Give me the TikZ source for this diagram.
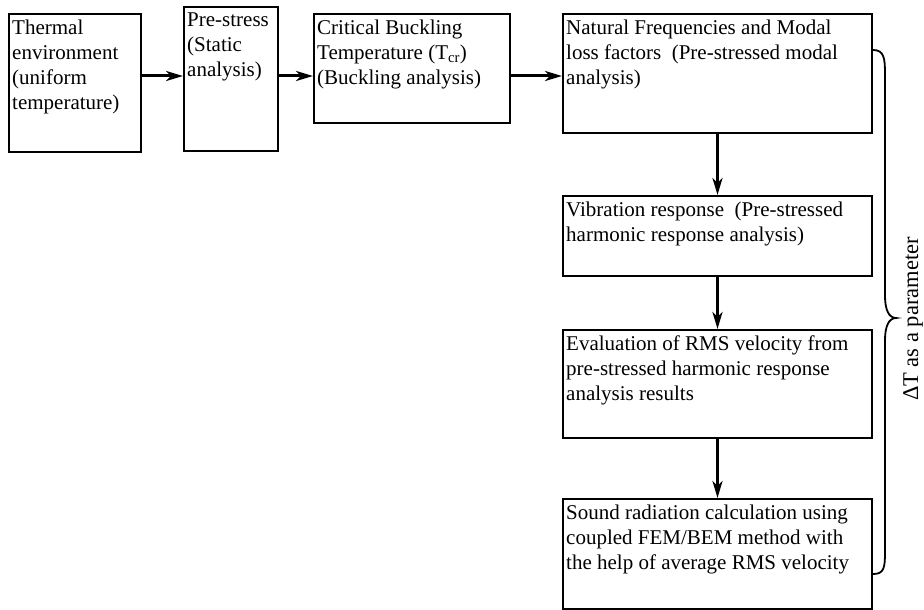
\documentclass[tikz,border=0pt]{standalone}
\usepackage{fontspec}
\setmainfont{Liberation Serif}
\usetikzlibrary{arrows.meta, positioning, calc}

\begin{document}
\begin{tikzpicture}[x=1pt,y=-1pt,
  stage/.style={draw, line width=2pt, anchor=north west, inner sep=0pt},
  txt/.style={anchor=north west, align=left, inner xsep=4pt, inner ysep=7pt,
    font=\fontsize{21}{25}\selectfont},
  flow/.style={line width=3pt, -{Stealth[length=17pt,width=10pt,inset=5pt]}},
  brace/.style={line width=1.8pt}]
  \useasboundingbox (0,0) rectangle (924,610);

  % Top row
  \node[stage, minimum width=132pt, minimum height=138pt,
    label={[txt]north west:{Thermal\\environment\\(uniform\\temperature)}}] (thermal) at (8,13) {};
  \node[stage, minimum width=94pt, minimum height=144pt,
    label={[txt]north west:{Pre-stress\\(Static\\analysis)}}] (prestress) at (183,6) {};
  \node[stage, minimum width=196pt, minimum height=109pt,
    label={[txt]north west:{Critical Buckling\\Temperature (T\textsubscript{cr})\\(Buckling analysis)}}] (buckling) at (313,13) {};
  \node[stage, minimum width=309pt, minimum height=119pt,
    label={[txt]north west:{Natural Frequencies and Modal\\loss factors~ (Pre-stressed modal\\analysis)}}] (natfreq) at (562,13) {};

  % Right column
  \node[stage, minimum width=309pt, minimum height=80pt,
    label={[txt]north west:{Vibration response~ (Pre-stressed\\harmonic response analysis)}}] (vibration) at (562,195) {};
  \node[stage, minimum width=309pt, minimum height=108pt,
    label={[txt]north west:{Evaluation of RMS velocity from\\pre-stressed harmonic response\\analysis results}}] (rms) at (562,329) {};
  \node[stage, minimum width=309pt, minimum height=110pt,
    label={[txt]north west:{Sound radiation calculation using\\coupled FEM/BEM method with\\the help of average RMS velocity}}] (sound) at (562,498) {};

  % Arrows
  \coordinate (row) at (0,76);
  \draw[flow] (thermal.east |- row) -- (prestress.west |- row);
  \draw[flow] (prestress.east |- row) -- (buckling.west |- row);
  \draw[flow] (buckling.east |- row) -- (natfreq.west |- row);
  \draw[flow] (natfreq) -- (vibration);
  \draw[flow] (vibration) -- (rms);
  \draw[flow] (rms) -- (sound);

  % Brace
  \coordinate (btop) at (natfreq.east |- 0,50);
  \coordinate (bbot) at (sound.east |- 0,574);
  \coordinate (btip) at (896,318);
  \draw[brace] (btop) .. controls +(11,0) and +(0,-16) .. (885,74) -- (885,296)
    .. controls (885,310) and (889,318) .. (btip)
    .. controls (889,318) and (885,326) .. (885,340) -- (885,552)
    .. controls +(0,16) and +(11,0) .. (bbot);
  \node[rotate=90, font=\fontsize{22.5}{25}\selectfont] (param) at (913,319) {ΔT as a parameter};
\end{tikzpicture}
\end{document}
